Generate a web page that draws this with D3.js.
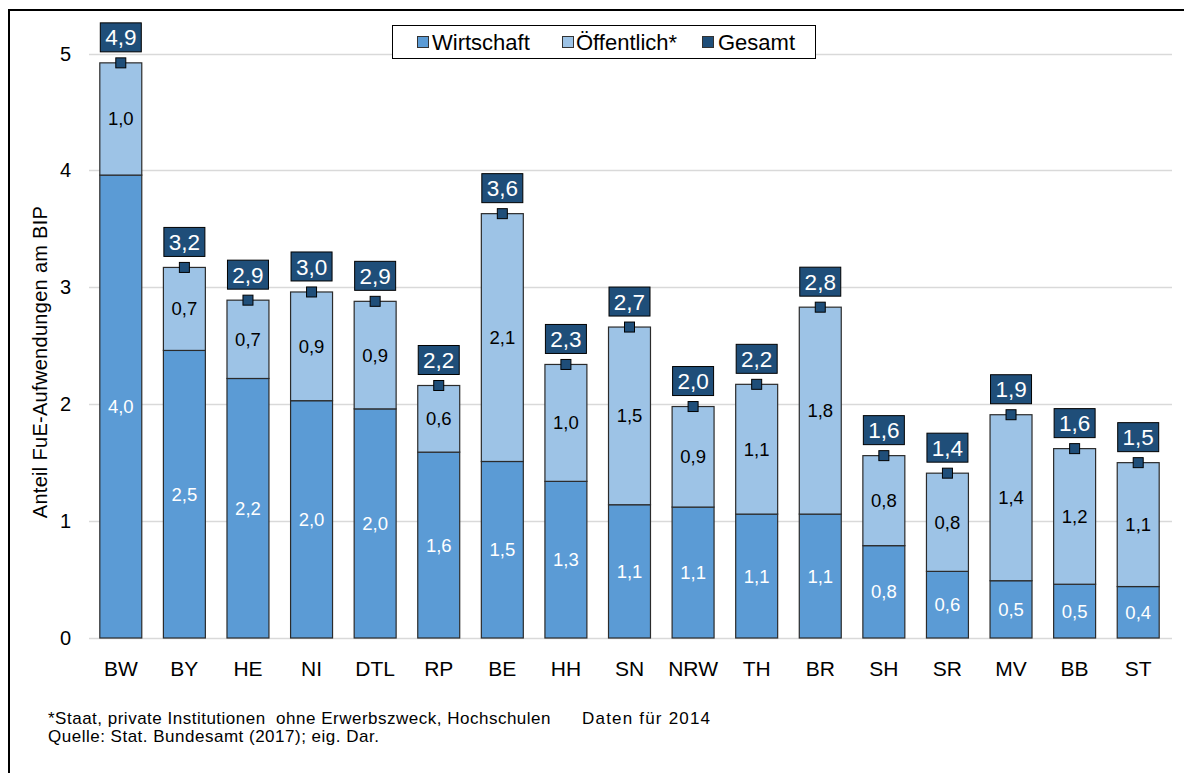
<!DOCTYPE html>
<html>
<head>
<meta charset="utf-8">
<script src="https://cdn.jsdelivr.net/npm/d3@7"></script>
<style>
  body { margin: 0; background: #fff; }
  svg { display: block; font-family: 'Liberation Sans', Arial, sans-serif; }
</style>
</head>
<body>
<svg id="chart" width="1184" height="773"></svg>
<script>
const laender = ['BW', 'BY', 'HE', 'NI', 'DTL', 'RP', 'BE', 'HH', 'SN', 'NRW', 'TH', 'BR', 'SH', 'SR', 'MV', 'BB', 'ST'];
const wirtschaft = [3.96, 2.46, 2.22, 2.03, 1.96, 1.59, 1.51, 1.34, 1.14, 1.12, 1.06, 1.06, 0.79, 0.57, 0.49, 0.46, 0.44];
const oeffentlich = [0.96, 0.71, 0.67, 0.93, 0.92, 0.57, 2.12, 1.00, 1.52, 0.86, 1.11, 1.77, 0.77, 0.84, 1.42, 1.16, 1.06];
const yTicks = [0, 1, 2, 3, 4, 5];
const legendLabels = ['Wirtschaft', 'Öffentlich*', 'Gesamt'];

const colors = { w: '#5B9BD5', o: '#9DC3E6', g: '#1F4E79' };
const fmt = v => v.toFixed(1).replace('.', ',');

const data = laender.map((d, i) => ({
  land: d,
  w: wirtschaft[i],
  o: oeffentlich[i],
  total: wirtschaft[i] + oeffentlich[i]
}));

const svg = d3.select('#chart');

const x = d3.scaleBand().domain(laender).range([89, 1170]).paddingInner(0.34).paddingOuter(0.17);
const y = d3.scaleLinear().domain([0, 5]).range([638, 53.5]);

// outer frame (only left and top edges fall inside the picture)
svg.append('rect')
  .attr('x', 9).attr('y', 10)
  .attr('width', 1300).attr('height', 900)
  .attr('fill', 'none').attr('stroke', '#000').attr('stroke-width', 2);

// grid
svg.append('g')
  .selectAll('line')
  .data(yTicks)
  .join('line')
  .attr('x1', 89).attr('x2', 1172)
  .attr('y1', d => Math.round(y(d)) + 0.5).attr('y2', d => Math.round(y(d)) + 0.5)
  .attr('stroke', '#d9d9d9').attr('stroke-width', 1.5);

svg.append('g')
  .selectAll('text')
  .data(yTicks)
  .join('text')
  .attr('x', 71)
  .attr('y', d => y(d))
  .attr('dy', '0.35em')
  .attr('text-anchor', 'end')
  .style('font-size', '20px')
  .text(d => d);

svg.append('text')
  .attr('transform', 'translate(47,' + 362 + ') rotate(-90)')
  .attr('text-anchor', 'middle')
  .style('font-size', '20px')
  .style('letter-spacing', '0.3px')
  .text('Anteil FuE-Aufwendungen am BIP');

// bars
const bars = svg.append('g');

bars.selectAll('.bar-w')
  .data(data)
  .join('rect')
  .attr('class', 'bar-w')
  .attr('x', d => x(d.land))
  .attr('width', x.bandwidth())
  .attr('y', d => y(d.w))
  .attr('height', d => y(0) - y(d.w))
  .attr('fill', colors.w)
  .attr('stroke', '#2b2b2b').attr('stroke-width', 1.2);

bars.selectAll('.bar-o')
  .data(data)
  .join('rect')
  .attr('class', 'bar-o')
  .attr('x', d => x(d.land))
  .attr('width', x.bandwidth())
  .attr('y', d => y(d.total))
  .attr('height', d => y(d.w) - y(d.total))
  .attr('fill', colors.o)
  .attr('stroke', '#2b2b2b').attr('stroke-width', 1.2);

const cx = d => x(d.land) + x.bandwidth() / 2;

bars.selectAll('.lbl-w')
  .data(data)
  .join('text')
  .attr('class', 'lbl-w')
  .attr('x', cx)
  .attr('y', d => (y(0) + y(d.w)) / 2)
  .attr('dy', '0.35em')
  .attr('text-anchor', 'middle')
  .attr('fill', '#fff')
  .style('font-size', '18.5px')
  .text(d => fmt(d.w));

bars.selectAll('.lbl-o')
  .data(data)
  .join('text')
  .attr('class', 'lbl-o')
  .attr('x', cx)
  .attr('y', d => (y(d.w) + y(d.total)) / 2)
  .attr('dy', '0.35em')
  .attr('text-anchor', 'middle')
  .attr('fill', '#000')
  .style('font-size', '18.5px')
  .text(d => fmt(d.o));

// Gesamt markers and boxes
bars.selectAll('.marker')
  .data(data)
  .join('rect')
  .attr('class', 'marker')
  .attr('x', d => cx(d) - 5)
  .attr('y', d => y(d.total) - 5)
  .attr('width', 10).attr('height', 10)
  .attr('fill', colors.g)
  .attr('stroke', '#000').attr('stroke-width', 1);

const boxes = bars.selectAll('.gbox')
  .data(data)
  .join('g')
  .attr('class', 'gbox')
  .attr('transform', d => 'translate(' + cx(d) + ',' + (y(d.total) - 11) + ')');

boxes.append('rect')
  .attr('x', -20.5).attr('y', -29)
  .attr('width', 41).attr('height', 29)
  .attr('fill', colors.g)
  .attr('stroke', '#000').attr('stroke-width', 1);

boxes.append('text')
  .attr('y', -14.5)
  .attr('dy', '0.36em')
  .attr('text-anchor', 'middle')
  .attr('fill', '#fff')
  .style('font-size', '22.5px')
  .text(d => fmt(d.total));

// category axis
svg.append('g')
  .selectAll('text')
  .data(laender)
  .join('text')
  .attr('x', d => x(d) + x.bandwidth() / 2)
  .attr('y', 676)
  .attr('text-anchor', 'middle')
  .style('font-size', '21px')
  .text(d => d);

// legend
const legend = svg.append('g');
legend.append('rect')
  .attr('x', 392.5).attr('y', 25.5)
  .attr('width', 423).attr('height', 33)
  .attr('fill', '#fff')
  .attr('stroke', '#000').attr('stroke-width', 1);

const legendSq = [417, 562, 702];
const legendTx = [432, 576, 718];
const legendColors = [colors.w, colors.o, colors.g];
legendLabels.forEach((t, i) => {
  legend.append('rect')
    .attr('x', legendSq[i] + 0.5).attr('y', 36.5)
    .attr('width', 11).attr('height', 11)
    .attr('fill', legendColors[i])
    .attr('stroke', '#333').attr('stroke-width', 1);
  legend.append('text')
    .attr('x', legendTx[i])
    .attr('y', 42)
    .attr('dy', '0.35em')
    .style('font-size', '22px')
    .text(t);
});

// footnote
const foot = svg.append('g').style('font-size', '17px').style('letter-spacing', '0.5px');
foot.append('text')
  .attr('x', 48).attr('y', 724)
  .style('white-space', 'pre')
  .text('*Staat, private Institutionen  ohne Erwerbszweck, Hochschulen');
foot.append('text')
  .attr('x', 582).attr('y', 724)
  .style('letter-spacing', '1.2px')
  .text('Daten für 2014');
foot.append('text')
  .attr('x', 48).attr('y', 742)
  .text('Quelle: Stat. Bundesamt (2017); eig. Dar.');
</script>
</body>
</html>
